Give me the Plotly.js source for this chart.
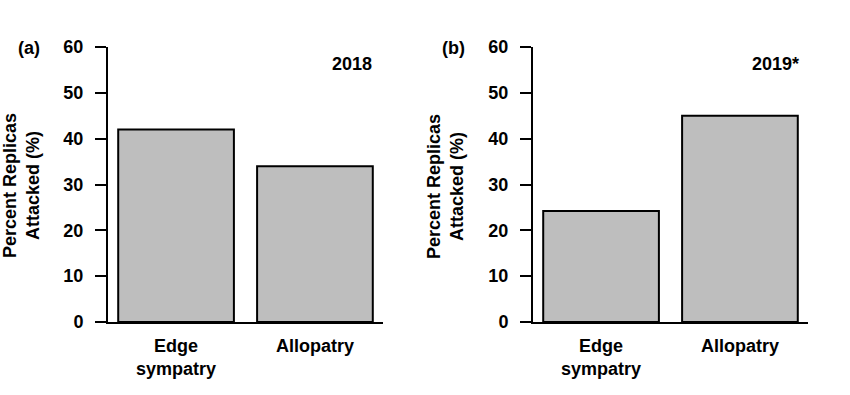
<!DOCTYPE html>
<html>
<head>
<meta charset="utf-8">
<script src="https://cdn.plot.ly/plotly-3.0.1.min.js"></script>
<style>html,body{margin:0;padding:0;background:#fff;}#chart{width:850px;height:395px;}</style>
</head>
<body>
<div id="chart"></div>
<script>
const categories = ["Edge sympatry", "Allopatry"];
const tickLabels = ["Edge<br>sympatry", "Allopatry"];
const values2018 = [42, 34];
const values2019 = [24.2, 45];
const yTicks = [0, 10, 20, 30, 40, 50, 60];
const panelLabels = ["(a)", "(b)"];
const yearLabels = ["2018", "2019*"];
const yTitle = "Percent Replicas<br>Attacked (%)";

const FONT = "Liberation Sans, Arial, Helvetica, sans-serif";
const W = 850, H = 395;
const px = v => v / W;
const py = v => (H - v) / H;

const barStyle = {color: "#bebebe", line: {color: "#000", width: 2}};
const traces = [
  {type: "bar", x: categories, y: values2018, width: 0.833, marker: barStyle, xaxis: "x", yaxis: "y", hoverinfo: "x+y"},
  {type: "bar", x: categories, y: values2019, width: 0.833, marker: barStyle, xaxis: "x2", yaxis: "y2", hoverinfo: "x+y"}
];

function xAxis(dom, anchor) {
  return {
    domain: dom, anchor: anchor, type: "category", range: [-0.49, 1.49],
    tickvals: categories, ticktext: tickLabels, ticks: "", showline: true,
    linecolor: "#000", linewidth: 2, showgrid: false, zeroline: false,
    tickfont: {family: FONT, size: 18, color: "#000", weight: "bold"},
    ticklabelstandoff: 6, automargin: false, fixedrange: true
  };
}
function yAxis(anchor) {
  return {
    domain: [py(322), py(47)], anchor: anchor, range: [0, 60],
    tickvals: yTicks, ticks: "outside", ticklen: 11, tickwidth: 2, tickcolor: "#000",
    showline: true, linecolor: "#000", linewidth: 2, showgrid: false, zeroline: false,
    tickfont: {family: FONT, size: 18, color: "#000", weight: "bold"},
    ticklabelstandoff: 8, automargin: false, fixedrange: true
  };
}

const ann = (text, x, y, extra) => Object.assign({
  text: text, x: x, y: y, xref: "paper", yref: "paper", showarrow: false,
  xanchor: "center", yanchor: "middle",
  font: {family: FONT, size: 18, color: "#000", weight: "bold"}
}, extra || {});

const layout = {
  width: W, height: H,
  margin: {l: 0, r: 0, t: 0, b: 0},
  paper_bgcolor: "#fff", plot_bgcolor: "#fff",
  showlegend: false, bargap: 0,
  xaxis: xAxis([px(108), px(383)], "y"),
  yaxis: yAxis("x"),
  xaxis2: xAxis([px(533), px(808)], "y2"),
  yaxis2: yAxis("x2"),
  annotations: [
    ann(panelLabels[0], px(29), py(48)),
    ann(panelLabels[1], px(454), py(48)),
    ann(yearLabels[0], px(352), py(64)),
    ann(yearLabels[1], px(775), py(64)),
    ann(yTitle, px(22), py(186), {textangle: -90}),
    ann(yTitle, px(446), py(186), {textangle: -90})
  ]
};

Plotly.newPlot("chart", traces, layout, {displayModeBar: false, staticPlot: true});
</script>
</body>
</html>
